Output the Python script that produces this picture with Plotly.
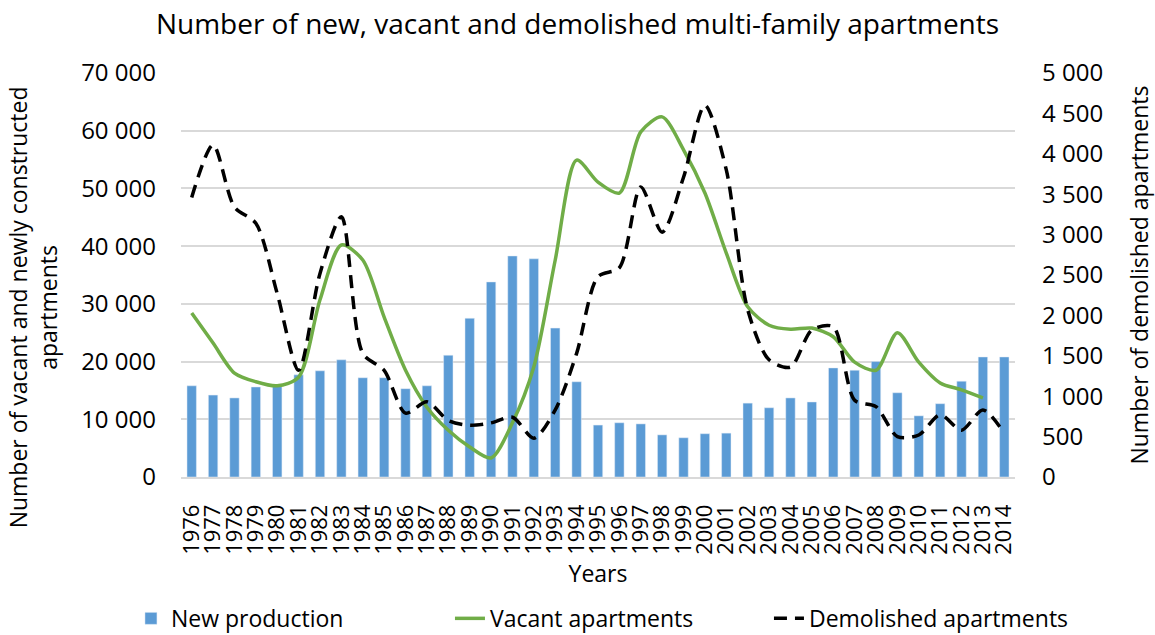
import plotly.graph_objects as go

# ── data ──────────────────────────────────────────
years = [str(y) for y in range(1976, 2015)]

new_production = [
    15800, 14200, 13700, 15600, 15800, 17700, 18400, 20300, 17200, 17200,
    15300, 15800, 21100, 27500, 33800, 38300, 37800, 25800, 16500, 9000,
    9400, 9200, 7300, 6800, 7500, 7600, 12800, 12000, 13700, 13000,
    18900, 18500, 20000, 14600, 10600, 12700, 16600, 20800, 20800,
]

vacant = [
    28400, 23200, 18000, 16500, 15800, 17300, 30700, 40200, 37600, 27700,
    18500, 12100, 8100, 5200, 3300, 9400, 19100, 37600, 54900, 51100,
    49200, 59800, 62400, 56700, 49200, 38800, 29500, 26300, 25600, 25800,
    24300, 19900, 18500, 25000, 19900, 16300, 15100, 13700,
]

demolished = [
    3460, 4110, 3340, 3140, 2270, 1320, 2520, 3220, 1530, 1320,
    790, 930, 700, 640, 670, 740, 480, 830, 1530, 2480,
    2590, 3590, 3030, 3710, 4600, 3800, 2070, 1450, 1360, 1820,
    1860, 950, 870, 500, 520, 770, 580, 830, 540,
]

left_ticks = list(range(0, 70001, 10000))
right_ticks = list(range(0, 5001, 500))

FONT = 'Open Sans'
GRID = '#d9d9d9'

fig = go.Figure()
fig.add_trace(go.Bar(
    x=years, y=new_production, name='New production',
    marker=dict(color='#5b9bd5'),
))
fig.add_trace(go.Scatter(
    x=years[:len(vacant)], y=vacant, name='Vacant apartments', mode='lines',
    line=dict(color='#70ad47', width=3.5, shape='spline', smoothing=0.8),
))
fig.add_trace(go.Scatter(
    x=years, y=demolished, name='Demolished apartments', mode='lines', yaxis='y2',
    line=dict(color='black', width=3.5, dash='13px,8px', shape='spline', smoothing=0.8),
))

# left axis title is off-centre in the original, so place it by hand
fig.add_annotation(
    text='Number of vacant and newly constructed<br>apartments',
    xref='paper', yref='paper', x=-0.217, y=0.42,
    xanchor='left', yanchor='middle', textangle=-90, showarrow=False,
    font=dict(size=23),
)

fig.update_layout(
    width=1155, height=635,
    paper_bgcolor='white', plot_bgcolor='white',
    font=dict(family=FONT, size=24, color='black'),
    separators='. ',
    title=dict(text='Number of new, vacant and demolished multi-family apartments',
               x=0.5, xanchor='center', y=0.978, yanchor='top',
               font=dict(size=28)),
    margin=dict(l=181, r=140, t=73, b=158, autoexpand=False),
    bargap=0.56,
    showlegend=True,
    legend=dict(orientation='h', x=-0.060, xanchor='left', y=-0.35, yanchor='middle',
                font=dict(size=23), entrywidth=274, entrywidthmode='pixels',
                tracegroupgap=0),
    xaxis=dict(
        type='category', tickmode='array', tickvals=years, ticktext=years,
        tickangle=-90, tickfont=dict(size=22),
        title=dict(text='Years', font=dict(size=23), standoff=12),
        showgrid=False, showline=True, linecolor=GRID, linewidth=1.5,
        ticks='', ticklabelstandoff=17,
    ),
    yaxis=dict(
        range=[0, 70000], tickvals=left_ticks, tickformat=',d',
        gridcolor=GRID, gridwidth=1.5, zeroline=False,
        tickfont=dict(size=24), ticks='', ticklabelstandoff=24,
    ),
    yaxis2=dict(
        range=[0, 5000], tickvals=right_ticks, tickformat=',d',
        overlaying='y', side='right', showgrid=False, zeroline=False,
        tickfont=dict(size=24), ticks='', ticklabelstandoff=26,
        title=dict(text='Number of demolished apartments',
                   font=dict(size=23), standoff=32),
    ),
)

# drop the browser's default 8px page margin so the figure fills the window
fig.write_html('out.html', config={'displayModeBar': False},
               post_script="document.body.style.margin='0';")
